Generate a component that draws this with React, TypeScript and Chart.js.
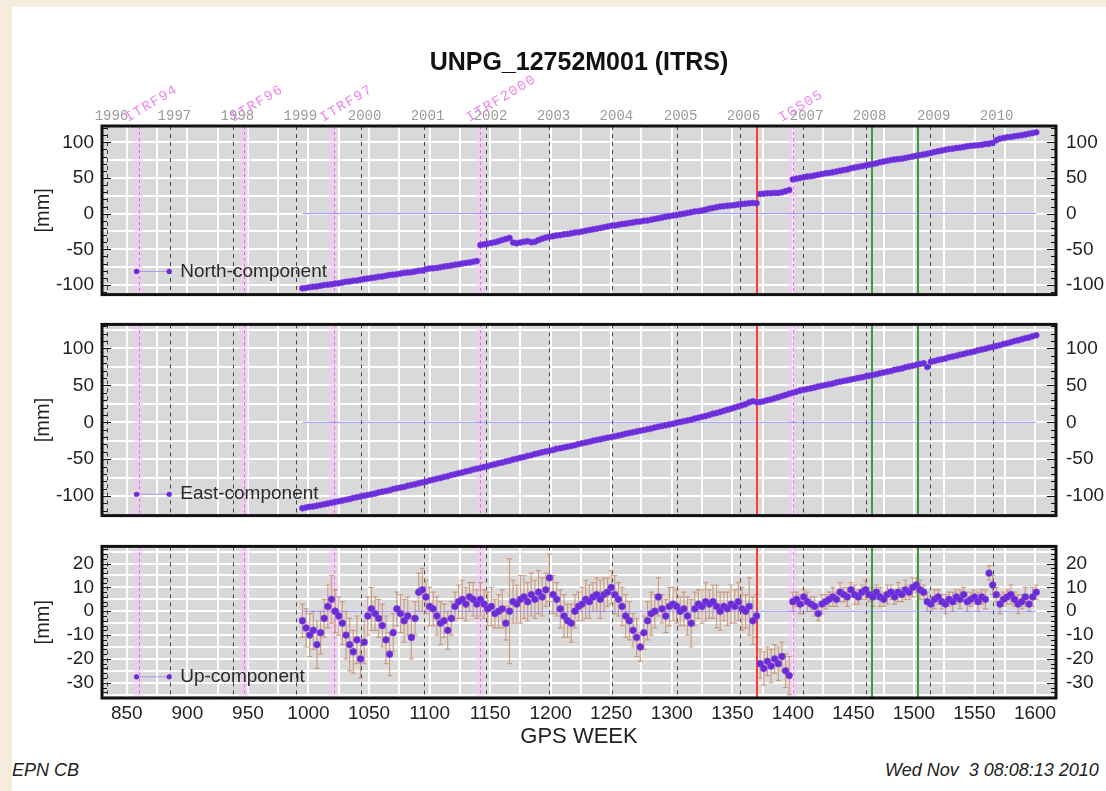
import React, { useEffect, useRef } from 'react';
import { Chart, registerables } from 'chart.js';

Chart.register(...registerables);

const FONT = '"Liberation Sans", Arial, Helvetica, sans-serif';
const MONO = '"Liberation Mono", "DejaVu Sans Mono", monospace';

const TITLE = 'UNPG_12752M001 (ITRS)';

// weekly solutions, one value every 3 GPS weeks starting at week 995
const WEEK_START = 995;
const WEEK_STEP = 3;

const north = [
  -104.5, -104, -103, -102.5, -102, -101, -100, -99.5, -99, -98,
  -97.5, -96.5, -95.5, -95, -94, -93.5, -92.5, -91.5, -91, -90,
  -89.5, -88.5, -88, -87, -86, -85.5, -85, -84, -83, -82.5,
  -82, -81, -80, -79.5, -78, -77, -76.5, -76, -75, -74,
  -73.5, -72.5, -71.5, -71, -70, -69, -68.5, -67.5, -66.5,
  -44, -43, -42, -41, -40, -38.5, -37, -35.5, -34, -40.5,
  -41.5, -40.5, -39.5, -38.5, -40, -39.5, -37, -35, -33.5, -32.5,
  -31.5, -30.5, -30, -29, -28.5, -27.5, -26.5, -26, -25, -24,
  -23, -22, -21, -20, -19, -18, -17, -16.5, -15.5, -14.5,
  -14, -13, -12.5, -11.5, -11, -10, -9.5, -8.5, -7.5, -6.5,
  -5.5, -4.5, -3.5, -2.5, -2, -1, 0, 1, 2, 3,
  3.5, 4.5, 5.5, 7, 8, 9, 10, 10.5, 11, 11.5,
  12, 13, 13.5, 14, 14.5, 15, 14.5,
  27.5, 28, 28.5, 28.5, 29, 29, 30, 31.5, 33,
  48, 49, 50, 51, 52, 52.5, 53.5, 54.5, 55.5, 56.5,
  57, 58, 59, 60, 61, 62, 63.5, 64.5, 65.5, 66.5,
  67.5, 68.5, 69.5, 70.5, 72, 73, 74, 75, 76, 76.5,
  77, 78, 79, 80, 81, 82, 83, 84, 85, 86.5,
  87.5, 88.5, 89.5, 90.5, 91, 92, 92.5, 93.5, 94.5, 95,
  95.5, 96, 96.5, 97.5, 98, 99, 103, 105, 106, 107,
  107.5, 108.5, 109, 110, 111, 112, 113, 114,
];

const east = [
  -116.5, -115.5, -114.5, -114, -113, -112, -111, -110, -109, -108,
  -107, -106, -105, -104, -102.5, -101.5, -100.5, -99.5, -98.5, -97.5,
  -96.5, -95, -94, -93, -92, -90.5, -89.5, -88.5, -87.5, -86,
  -85, -84, -82.5, -81.5, -80.5, -79, -78, -76.5, -75.5, -74,
  -73, -71.5, -70.5, -69, -68, -66.5, -65.5, -64, -63,
  -62, -60.5, -59.5, -58, -57, -55.5, -54.5, -53, -52, -50.5,
  -49.5, -48, -47, -45.5, -44.5, -43, -42, -40.5, -39.5, -38.5,
  -37.5, -36, -35, -34, -33, -32, -31, -29.5, -28.5, -27.5,
  -26.5, -25, -24, -23, -22, -21, -20, -19, -18, -17,
  -15.5, -14.5, -13.5, -12.5, -11.5, -10.5, -9.5, -8.5, -7, -6,
  -5, -4, -3, -2, -0.5, 0.5, 1.5, 2.5, 3.5, 5,
  6, 7.5, 8.5, 10, 11.5, 12.5, 14, 15.5, 17, 18.5,
  20, 21.5, 23, 24.5, 27, 28.5, 27.5,
  27.5, 28.5, 30, 31, 32.5, 34, 35.5, 37, 38.5,
  40, 41.5, 43, 44, 45, 46, 47, 48.5, 49.5, 50.5,
  51.5, 52.5, 54, 55, 56, 57, 58, 59, 60, 61,
  62, 63, 64, 65, 66.5, 67.5, 68.5, 69.5, 71, 72,
  73, 74.5, 75.5, 76.5, 78, 79, 80, 75, 82, 83,
  84.5, 85.5, 86.5, 88, 89, 90, 91.5, 92.5, 94, 95,
  96, 97.5, 98.5, 99.5, 101, 102, 103.5, 104.5, 106, 107,
  108.5, 110, 111, 112.5, 114, 115, 116.5, 118,
];

const up = [
  -4, -7, -10, -8, -14, -9, -3, 2, 5, 0,
  -2, -5, -10, -14, -17, -12, -20, -13, -2, 1,
  -1, -3, -6, -12, -18, -9, 1, -1, -4, -2,
  -11, -3, 8, 9, 6, 2, 1, -2, -5, -4,
  -8, -3, 2, 4, 5, 3, 6, 5, 3,
  5, 3, 1, 2, -1, 0, 1, -5, 0, 4,
  3, 5, 6, 4, 7, 5, 8, 6, 9, 14,
  7, 5, 1, -2, -4, -5, 0, 2, 3, 5,
  4, 6, 7, 5, 7, 8, 10, 7, 5, 2,
  -2, -4, -8, -11, -15, -9, -4, -1, 0, 6,
  1, -2, 2, 3, 2, 0, 1, -2, -5, 1,
  3, 2, 4, 3, 4, 2, 0, 2, 1, 3,
  2, 4, 1, 0, 2, -4, -2,
  -22, -24, -21, -23, -20, -22, -19, -25, -27,
  4, 5, 3, 6, 4, 3, 2, -1, 3, 4,
  5, 6, 5, 8, 7, 6, 9, 7, 6, 8,
  9, 7, 6, 8, 6, 5, 7, 8, 6, 8,
  7, 9, 8, 10, 11, 9, 8, 4, 3, 5,
  6, 4, 3, 5, 4, 6, 5, 7, 4, 5,
  6, 4, 6, 5, 16, 11, 7, 3, 5, 6,
  7, 5, 3, 4, 6, 3, 6, 8,
];

const upErr = [
  7, 8, 9, 8, 10, 9, 8, 9, 10, 9,
  8, 9, 10, 11, 9, 10, 8, 9, 8, 9,
  7, 8, 9, 10, 9, 8, 7, 8, 9, 8,
  9, 7, 8, 9, 7, 8, 7, 8, 9, 7,
  8, 7, 6, 7, 8, 7, 6, 7, 6,
  7, 6, 7, 8, 6, 7, 8, 7, 22, 9,
  8, 10, 9, 8, 9, 8, 9, 8, 7, 10,
  8, 7, 8, 9, 7, 8, 7, 6, 7, 8,
  7, 6, 7, 8, 7, 6, 7, 8, 7, 8,
  9, 8, 7, 8, 6, 7, 8, 9, 7, 8,
  6, 7, 8, 7, 7, 6, 7, 8, 10, 7,
  6, 7, 8, 6, 7, 9, 8, 6, 7, 8,
  7, 8, 9, 7, 12, 10, 9,
  6, 7, 6, 7, 6, 7, 6, 7, 8,
  4, 3, 4, 3, 4, 3, 4, 3, 4, 3,
  3, 4, 3, 4, 3, 4, 3, 4, 3, 3,
  4, 3, 4, 3, 4, 3, 4, 3, 3, 4,
  3, 4, 3, 4, 3, 4, 3, 4, 3, 4,
  3, 3, 4, 3, 4, 3, 4, 3, 4, 3,
  3, 4, 3, 4, 3, 4, 3, 4, 3, 3,
  4, 3, 4, 3, 4, 3, 4, 3,
];

const weeks = north.map((_, i) => WEEK_START + i * WEEK_STEP);

const yearWeeks = [834, 886, 938, 990, 1043, 1095, 1147, 1199, 1251, 1304, 1356, 1408, 1460, 1513, 1565];
const yearLabels = ['1996', '1997', '1998', '1999', '2000', '2001', '2002', '2003', '2004', '2005', '2006', '2007', '2008', '2009', '2010'];

const frameWeeks = [860, 947, 1021, 1142, 1400];
const frameLabels = ['ITRF94', 'ITRF96', 'ITRF97', 'ITRF2000', 'IGS05'];
const redWeeks = [1370.5];
const greenWeeks = [1465, 1503.5];
const legendWeeks = [858, 885];
const zeroLineWeeks = [995, 1601];

const X_MIN = 829.5;
const X_MAX = 1617.3;

type PanelDef = {
  values: number[];
  errors?: number[];
  label: string;
  min: number;
  max: number;
  step: number;
  labelStep: number;
  minorStep: number;
  legendY: number;
  canvasTop: number;
  canvasHeight: number;
  padTop: number;
  padBottom: number;
  isTop?: boolean;
  isBottom?: boolean;
  pointRadius: number;
};

const panels: PanelDef[] = [
  { values: north, label: 'North-component', min: -113.4, max: 122.8, step: 25, labelStep: 50, minorStep: 10, legendY: -81,
    canvasTop: 0, canvasHeight: 316, padTop: 96, padBottom: 14, isTop: true, pointRadius: 3 },
  { values: east, label: 'East-component', min: -126.4, max: 132.6, step: 25, labelStep: 50, minorStep: 10, legendY: -97.5,
    canvasTop: 303, canvasHeight: 234, padTop: 14, padBottom: 14, pointRadius: 3 },
  { values: up, errors: upErr, label: 'Up-component', min: -36.4, max: 27.2, step: 5, labelStep: 10, minorStep: 2, legendY: -27.5,
    canvasTop: 525, canvasHeight: 235, padTop: 14, padBottom: 2, isBottom: true, pointRadius: 3.4 },
];

const isMultiple = (v: number, m: number) => Math.abs(v / m - Math.round(v / m)) < 1e-6;

function makePlugin(p: PanelDef) {
  return {
    id: 'gpsDecor',
    beforeDraw(chart: any) {
      const { ctx, chartArea: a } = chart;
      ctx.save();
      ctx.fillStyle = '#d9d9d9';
      ctx.fillRect(a.left, a.top, a.right - a.left, a.bottom - a.top);
      ctx.restore();
    },
    beforeDatasetsDraw(chart: any) {
      const { ctx, chartArea: a, scales } = chart;
      const xs = scales.x;
      const ys = scales.y;
      ctx.save();
      ctx.beginPath();
      ctx.rect(a.left, a.top, a.right - a.left, a.bottom - a.top);
      ctx.clip();
      const vline = (w: number, color: string, width: number, dash: number[]) => {
        const px = Math.round(xs.getPixelForValue(w)) + (width % 2 ? 0.5 : 0);
        ctx.strokeStyle = color;
        ctx.lineWidth = width;
        ctx.setLineDash(dash);
        ctx.beginPath();
        ctx.moveTo(px, a.top);
        ctx.lineTo(px, a.bottom);
        ctx.stroke();
      };
      frameWeeks.forEach((w) => {
        const px = xs.getPixelForValue(w);
        ctx.fillStyle = 'rgba(250,200,250,0.5)';
        ctx.fillRect(px - 5, a.top, 9, a.bottom - a.top);
      });
      frameWeeks.forEach((w) => vline(w, 'rgba(190,110,200,0.85)', 1, [3, 3]));
      yearWeeks.forEach((w) => vline(w, '#444444', 1, [4, 4]));
      ctx.setLineDash([]);
      if (p.errors) {
        const errs = p.errors;
        ctx.strokeStyle = 'rgba(200,140,105,0.8)';
        ctx.lineWidth = 1.2;
        ctx.beginPath();
        weeks.forEach((w, i) => {
          const e = errs[i];
          const v = p.values[i];
          if (e == null || v == null) return;
          const px = xs.getPixelForValue(w);
          const y1 = ys.getPixelForValue(v - e);
          const y2 = ys.getPixelForValue(v + e);
          ctx.moveTo(px, y1); ctx.lineTo(px, y2);
          ctx.moveTo(px - 2.5, y1); ctx.lineTo(px + 2.5, y1);
          ctx.moveTo(px - 2.5, y2); ctx.lineTo(px + 2.5, y2);
        });
        ctx.stroke();
      }
      redWeeks.forEach((w) => vline(w, '#ff3a3a', 2, []));
      greenWeeks.forEach((w) => vline(w, '#3f9a3f', 2, []));
      ctx.restore();
    },
    afterDraw(chart: any) {
      const { ctx, chartArea: a, scales } = chart;
      const xs = scales.x;
      const ys = scales.y;
      ctx.save();
      ctx.strokeStyle = '#111';
      ctx.lineWidth = 1;
      ctx.beginPath();
      for (let v = Math.ceil(p.min / p.minorStep) * p.minorStep; v <= p.max; v += p.minorStep) {
        const py = Math.round(ys.getPixelForValue(v)) + 0.5;
        const len = isMultiple(v, p.labelStep) ? 9 : 5;
        ctx.moveTo(a.left, py); ctx.lineTo(a.left + len, py);
        ctx.moveTo(a.right, py); ctx.lineTo(a.right - len, py);
      }
      ctx.stroke();
      ctx.lineWidth = 3;
      ctx.strokeStyle = '#111';
      ctx.strokeRect(a.left, a.top, a.right - a.left, a.bottom - a.top);

      ctx.fillStyle = '#2a2a2a';
      ctx.font = `19px ${FONT}`;
      ctx.textAlign = 'left';
      ctx.textBaseline = 'middle';
      ctx.fillText(p.label, xs.getPixelForValue(legendWeeks[1]) + 11, ys.getPixelForValue(p.legendY));

      if (p.isTop) {
        ctx.font = `bold 25px ${FONT}`;
        ctx.fillStyle = '#111';
        ctx.textAlign = 'center';
        ctx.textBaseline = 'middle';
        ctx.fillText(TITLE, (a.left + a.right) / 2, 63);

        ctx.font = `14px ${MONO}`;
        ctx.fillStyle = '#ec84ec';
        (ctx as any).letterSpacing = '1.5px';
        frameWeeks.forEach((w, i) => {
          const px = xs.getPixelForValue(w);
          ctx.save();
          ctx.translate(px - 11, 122);
          ctx.rotate((-31 * Math.PI) / 180);
          ctx.textAlign = 'left';
          ctx.textBaseline = 'alphabetic';
          ctx.fillText(frameLabels[i], 0, 0);
          ctx.restore();
        });
      }
      ctx.restore();
    },
  };
}

function makeConfig(p: PanelDef): any {
  const tickFont = { family: FONT, size: 19 };
  const yTickCb = (v: any) => (isMultiple(Number(v), p.labelStep) ? String(Math.round(Number(v))) : '');
  const scales: any = {
    x: {
      type: 'linear',
      position: 'bottom',
      min: X_MIN,
      max: X_MAX,
      border: { display: false },
      grid: { color: '#ffffff', lineWidth: 2, drawTicks: false },
      ticks: {
        display: !!p.isBottom,
        stepSize: 25,
        includeBounds: false,
        autoSkip: false,
        maxRotation: 0,
        padding: 4,
        font: tickFont,
        color: '#222',
        callback: (v: any) => (isMultiple(Number(v), 50) ? String(Math.round(Number(v))) : ''),
      },
      title: p.isBottom
        ? { display: true, text: 'GPS WEEK', font: { family: FONT, size: 22 }, color: '#222', padding: { top: 0, bottom: 8 } }
        : { display: false },
      afterFit: (s: any) => { s.height = p.isBottom ? 60 : 0; },
    },
    y: {
      type: 'linear',
      position: 'left',
      min: p.min,
      max: p.max,
      border: { display: false },
      grid: { color: '#ffffff', lineWidth: 2, drawTicks: false },
      ticks: { stepSize: p.step, includeBounds: false, autoSkip: false, padding: 8, font: tickFont, color: '#222', callback: yTickCb },
      title: { display: true, text: '[mm]', font: { family: FONT, size: 20 }, color: '#222', padding: { top: 31, bottom: 0 } },
      afterFit: (s: any) => { s.width = 102; },
    },
    y2: {
      type: 'linear',
      position: 'right',
      min: p.min,
      max: p.max,
      border: { display: false },
      grid: { display: false, drawTicks: false },
      ticks: { stepSize: p.step, includeBounds: false, autoSkip: false, padding: 10, font: tickFont, color: '#222', callback: yTickCb },
      afterFit: (s: any) => { s.width = 50; },
    },
  };
  if (p.isTop) {
    scales.x2 = {
      type: 'linear',
      position: 'top',
      min: X_MIN,
      max: X_MAX,
      border: { display: false },
      grid: { display: false, drawTicks: false },
      afterBuildTicks: (s: any) => { s.ticks = yearWeeks.map((v) => ({ value: v })); },
      ticks: {
        autoSkip: false,
        maxRotation: 0,
        padding: 1,
        labelOffset: 4,
        font: { family: MONO, size: 14 },
        color: '#9a9a9a',
        callback: (_v: any, i: number) => yearLabels[i] ?? '',
      },
      afterFit: (s: any) => { s.height = 30; },
    };
  }
  const pts = weeks.map((w, i) => ({ x: w, y: p.values[i] })).filter((d) => d.y != null);
  return {
    type: 'scatter',
    data: {
      datasets: [
        {
          data: pts,
          xAxisID: 'x',
          yAxisID: 'y',
          showLine: false,
          pointRadius: p.pointRadius,
          pointBackgroundColor: '#6a2bd6',
          pointBorderColor: 'rgba(125,70,235,0.9)',
          pointBorderWidth: 0.6,
        },
        {
          data: legendWeeks.map((w) => ({ x: w, y: p.legendY })),
          xAxisID: 'x',
          yAxisID: 'y',
          showLine: true,
          borderColor: 'rgba(160,120,235,0.7)',
          borderWidth: 1,
          pointRadius: 2.6,
          pointBackgroundColor: '#6a2bd6',
          pointBorderColor: '#6a2bd6',
          pointBorderWidth: 0,
        },
        {
          data: zeroLineWeeks.map((w) => ({ x: w, y: 0 })),
          xAxisID: 'x',
          yAxisID: 'y',
          showLine: true,
          borderColor: 'rgba(110,110,255,0.75)',
          borderWidth: 1,
          pointRadius: 0,
        },
      ],
    },
    options: {
      responsive: false,
      maintainAspectRatio: false,
      animation: false,
      devicePixelRatio: 1,
      events: [],
      layout: { padding: { top: p.padTop, bottom: p.padBottom, left: 0, right: 0 } },
      plugins: { legend: { display: false }, tooltip: { enabled: false }, title: { display: false } },
      scales,
    },
    plugins: [makePlugin(p)],
  };
}

export default function App() {
  const r0 = useRef<HTMLCanvasElement>(null);
  const r1 = useRef<HTMLCanvasElement>(null);
  const r2 = useRef<HTMLCanvasElement>(null);
  const refs = [r0, r1, r2];

  useEffect(() => {
    const charts = panels.map((p, i) => new Chart(refs[i].current as HTMLCanvasElement, makeConfig(p)));
    return () => charts.forEach((c) => c.destroy());
  }, []);

  const footFont = `italic 18px ${FONT}`;
  return (
    <div style={{ position: 'absolute', left: 0, top: 0, width: 1106, height: 791, background: '#f5ecdd', overflow: 'hidden' }}>
      <div style={{ position: 'absolute', left: 12, top: 7, right: 0, bottom: 0, background: '#ffffff' }} />
      {panels.map((p, i) => (
        <canvas
          key={i}
          ref={refs[i]}
          width={1106}
          height={p.canvasHeight}
          style={{ position: 'absolute', left: 0, top: p.canvasTop, width: 1106, height: p.canvasHeight }}
        />
      ))}
      <div style={{ position: 'absolute', left: 12, top: 760, font: footFont, lineHeight: '20px', color: '#222' }}>EPN CB</div>
      <div style={{ position: 'absolute', left: 885, top: 760, font: footFont, lineHeight: '20px', color: '#222', whiteSpace: 'pre' }}>
        Wed Nov  3 08:08:13 2010
      </div>
    </div>
  );
}
